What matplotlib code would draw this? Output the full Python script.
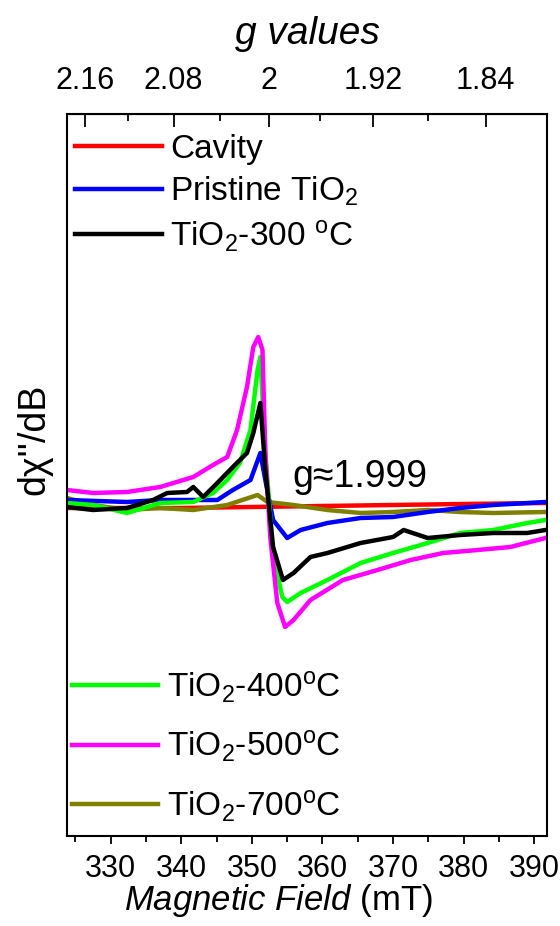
import numpy as np
import matplotlib
matplotlib.use("Agg")
import matplotlib.pyplot as plt
from matplotlib.ticker import FixedLocator, MultipleLocator
from matplotlib.lines import Line2D

plt.rcParams["font.family"] = ["Liberation Sans", "DejaVu Sans"]
plt.rcParams["mathtext.fontset"] = "custom"
plt.rcParams["mathtext.rm"] = "Liberation Sans"
plt.rcParams["mathtext.it"] = "Liberation Sans:italic"

# magnetic field (mT) and signal (a.u.)
cavity_b = [323.8, 340.0, 350.0, 360.0, 370.0, 380.0, 391.6]
cavity_y = [-1, -1, 0, 1, 2, 3, 4]

pristine_b = [323.8, 332.3, 337.0, 341.7, 345.1, 347.3, 349.8, 351.2, 351.9, 353.0,
              355.0, 356.9, 360.7, 365.4, 370.0, 374.9, 379.5, 384.2, 391.6]
pristine_y = [7, 5, 7, 7, 7, 17, 27, 54, 27, -13, -31, -23, -16, -11, -10, -5, -1, 2, 5]

t300_b = [323.8, 327.5, 332.3, 336.0, 338.0, 340.8, 341.7, 343.1, 345.1, 347.3, 349.3,
          350.2, 351.2, 351.9, 353.0, 354.4, 355.9, 358.3, 360.7, 365.4, 370.0, 371.5,
          374.9, 379.5, 384.2, 389.0, 391.6]
t300_y = [0, -3, -1, 7, 14, 15, 20, 10, 24, 40, 54, 74, 104, 37, -40, -73, -66, -50,
          -46, -36, -30, -23, -31, -28, -26, -26, -23]

t400_b = [323.8, 327.5, 332.3, 337.0, 341.7, 344.5, 346.5, 348.3, 349.8, 350.8, 351.2,
          351.9, 353.0, 354.3, 355.0, 356.9, 360.7, 365.4, 370.0, 374.9, 379.5, 384.2,
          389.0, 391.6]
t400_y = [4, 2, -6, 4, 5, 14, 27, 44, 77, 137, 150, 54, -46, -90, -95, -86, -73, -56,
          -46, -36, -26, -23, -16, -13]

t500_b = [323.8, 327.5, 332.3, 337.0, 341.7, 344.5, 346.5, 347.9, 349.3, 350.2, 350.9,
          351.5, 351.9, 352.6, 353.6, 354.7, 355.9, 358.3, 362.9, 367.8, 372.5, 377.1,
          382.0, 386.6, 391.6]
t500_y = [17, 14, 15, 20, 30, 42, 50, 77, 120, 160, 170, 157, 54, -30, -96, -120, -113,
          -93, -73, -63, -53, -46, -43, -40, -31]

t700_b = [323.8, 327.5, 332.3, 337.0, 341.7, 346.5, 350.8, 352.2, 355.9, 360.7, 365.4,
          370.0, 374.9, 379.5, 384.2, 391.6]
t700_y = [9, 2, -3, -1, -3, 2, 12, 5, 2, -3, -6, -5, -3, -5, -6, -5]

labels_top = ["Cavity", "Pristine TiO$_2$", "TiO$_2$-300 $^{\\rm o}$C"]
labels_bottom = ["TiO$_2$-400$^{\\rm o}$C", "TiO$_2$-500$^{\\rm o}$C", "TiO$_2$-700$^{\\rm o}$C"]
g_ticks = [2.16, 2.08, 2.0, 1.92, 1.84]
g_minor = [2.12, 2.04, 1.96, 1.88]
HNU = 704.9  # g * B (mT) for the X-band frequency used

fig = plt.figure(figsize=(5.6, 9.26), dpi=100)
ax = fig.add_axes([0.1196, 0.0972, 0.8571, 0.7797])

lw = 3.2
ax.plot(cavity_b, cavity_y, color="#ff0000", lw=lw)
ax.plot(t700_b, t700_y, color="#808000", lw=lw)
ax.plot(pristine_b, pristine_y, color="#0000ff", lw=lw)
ax.plot(t400_b, t400_y, color="#00ff00", lw=lw)
ax.plot(t500_b, t500_y, color="#ff00ff", lw=lw)
ax.plot(t300_b, t300_y, color="#000000", lw=lw)

ax.set_xlim(323.8, 391.8)
ax.set_ylim(-329, 393)
ax.set_yticks([])
ax.xaxis.set_major_locator(MultipleLocator(10))
ax.xaxis.set_minor_locator(MultipleLocator(5))
ax.tick_params(axis="x", which="major", direction="out", length=6, width=1.3,
               labelsize=22, pad=7)
ax.tick_params(axis="x", which="minor", direction="out", length=4, width=1.3)
for s in ax.spines.values():
    s.set_linewidth(1.5)

ax.set_xlabel(r"$\mathit{Magnetic\ Field}$ (mT)", fontsize=25)
ax.xaxis.set_label_coords(0.44, -0.064)
ax.set_ylabel("dχ''/dB", fontsize=27)
ax.yaxis.set_label_coords(-0.03, 0.55)

ax.text(355.7, 30, "g≈1.999", fontsize=27, va="center", ha="left")


def b2g(b):
    b = np.asarray(b, dtype=float)
    return HNU / np.where(b == 0, 1e-9, b)


def g2b(g):
    g = np.asarray(g, dtype=float)
    return HNU / np.where(g == 0, 1e-9, g)


sec = ax.secondary_xaxis("top", functions=(b2g, g2b))
sec.set_xticks(g_ticks)
sec.set_xticklabels([f"{g:g}" for g in g_ticks])
sec.xaxis.set_minor_locator(FixedLocator(g_minor))
sec.tick_params(which="major", direction="in", length=9, width=1.3, labelsize=22, pad=13)
sec.tick_params(which="minor", direction="in", length=5, width=1.3)
sec.set_xlabel("g values", fontsize=28, style="italic", labelpad=16)

h_top = [Line2D([], [], color=c, lw=lw) for c in ["#ff0000", "#0000ff", "#000000"]]
h_bot = [Line2D([], [], color=c, lw=lw) for c in ["#00ff00", "#ff00ff", "#808000"]]
leg1 = ax.legend(h_top, labels_top, loc="upper left", bbox_to_anchor=(-0.025, 1.0),
                 frameon=False, fontsize=24, handlelength=2.6, handletextpad=0.25,
                 labelspacing=0.3, borderaxespad=0.2)
ax.add_artist(leg1)
ax.legend(h_bot, labels_bottom, loc="lower left", bbox_to_anchor=(-0.025, -0.006),
          frameon=False, fontsize=24, handlelength=2.6, handletextpad=0.25,
          labelspacing=0.72, borderaxespad=0.1)

fig.savefig("out.png", dpi=100)
